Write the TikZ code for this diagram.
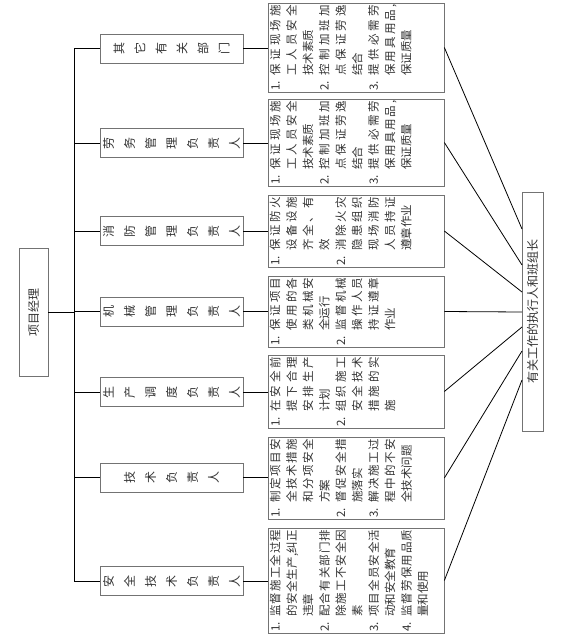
\documentclass[tikz,border=0pt]{standalone}
\usepackage{fontspec}
\setmainfont{Noto Sans CJK SC}
\makeatletter
\newcommand\spr[1]{\let\spr@f\relax\@tfor\spr@c:=#1\do{\ifx\spr@f\@empty\hfil\fi\spr@c\let\spr@f\@empty}}
\makeatother
\newlength\numw
\setlength\numw{15pt}
\newcommand\NL[2]{\hbox to\hsize{\hbox to\numw{#1\hfil}\spr{#2}}}
\newcommand\JL[1]{\hbox to\hsize{\hskip\numw\spr{#1}}}
\newcommand\EL[1]{\hbox to\hsize{\hskip\numw #1\hfil}}
\newcommand\DT[2]{\vbox{\hsize=#1\baselineskip=16.4pt\lineskiplimit=-20pt\lineskip=0pt #2}}
\definecolor{bordercol}{gray}{0.45}
\definecolor{txtcol}{gray}{0.2}
\begin{document}
\begin{tikzpicture}[x=1pt,y=-1pt,
  hd/.style={draw=bordercol, line width=0.7pt, rotate=90, minimum width=29pt, minimum height=143pt, inner sep=1pt, align=center, font=\fontsize{12pt}{21pt}\selectfont, text=txtcol},
  dbox/.style={draw=bordercol, line width=0.7pt, minimum width=176pt, inner sep=0pt},
  dtext/.style={rotate=90, anchor=north west, inner sep=0pt, font=\fontsize{11.5pt}{16.4pt}\selectfont, text=txtcol},
  tbox/.style={draw=bordercol, line width=0.7pt, rotate=90, inner sep=0pt, font=\fontsize{12pt}{14pt}\selectfont, text=txtcol},
  conn/.style={draw=black, line width=0.8pt}]
\fill[white] (0,0) rectangle (564,640);
\useasboundingbox (0,0) rectangle (564,640);
% project manager
\node[tbox, minimum width=128pt, minimum height=29pt] (pm) at (33.5,312) {项目经理};
% target
\node[tbox, minimum width=239pt, minimum height=21pt] (t) at (532.5,311.5) {有关工作的执行人和班组长};
% headers
\node[hd] (h1) at (171.5,48.5) {其\\它\\有\\关\\部\\门};
\node[hd] (h2) at (171.5,143) {劳\\务\\管\\理\\负\\责\\人};
\node[hd] (h3) at (171.5,231) {消\\防\\管\\理\\负\\责\\人};
\node[hd] (h4) at (171.5,311.5) {机\\械\\管\\理\\负\\责\\人};
\node[hd] (h5) at (171.5,392) {生\\产\\调\\度\\负\\责\\人};
\node[hd] (h6) at (171.5,477.5) {技\\术\\负\\责\\人};
\node[hd] (h7) at (171.5,581) {安\\全\\技\\术\\负\\责\\人};
% description boxes
\node[dbox, minimum height=89pt] (d1) at (356,47.5) {};
\node[dbox, minimum height=87pt] (d2) at (356,142.5) {};
\node[dbox, minimum height=72pt] (d3) at (356,231) {};
\node[dbox, minimum height=71pt] (d4) at (356,311.5) {};
\node[dbox, minimum height=73pt] (d5) at (356,391.5) {};
\node[dbox, minimum height=82pt] (d6) at (356,478) {};
\node[dbox, minimum height=105pt] (d7) at (356,580.5) {};
\node[dtext] (d1t) at ([shift={(2pt,1.5pt)}]d1.south west) {\DT{86pt}{%
\NL{1.}{保证现场施}\JL{工人员安全}\EL{技术素质}%
\NL{2.}{控制加班加}\JL{点保证劳逸}\EL{结合}%
\NL{3.}{提供必需劳}\JL{保用具用品,}\EL{保证质量}}};
\node[dtext] (d2t) at ([shift={(2pt,1.5pt)}]d2.south west) {\DT{84pt}{%
\NL{1.}{保证现场施}\JL{工人员安全}\EL{技术素质}%
\NL{2.}{控制加班加}\JL{点保证劳逸}\EL{结合}%
\NL{3.}{提供必需劳}\JL{保用具用品,}\EL{保证质量}}};
\node[dtext] (d3t) at ([shift={(2pt,1.5pt)}]d3.south west) {\DT{69pt}{%
\NL{1.}{保证防火}\JL{设备设施}\JL{齐全、有}\EL{效}%
\NL{2.}{消除火灾}\JL{隐患组织}\JL{现场消防}\JL{人员持证}\EL{遵章作业}}};
\node[dtext] (d4t) at ([shift={(2pt,1.5pt)}]d4.south west) {\DT{68pt}{%
\NL{1.}{保证项目}\JL{使用的各}\JL{类机械安}\EL{全运行}%
\NL{2.}{监督机械}\JL{操作人员}\JL{持证遵章}\EL{作业}}};
\node[dtext] (d5t) at ([shift={(2pt,1.5pt)}]d5.south west) {\DT{70pt}{%
\NL{1.}{在安全前}\JL{提下合理}\JL{安排生产}\EL{计划}%
\NL{2.}{组织施工}\JL{安全技术}\JL{措施的实}\EL{施}}};
\node[dtext] (d6t) at ([shift={(2pt,1.5pt)}]d6.south west) {\DT{79pt}{%
\NL{1.}{制定项目安}\JL{全技术措施}\JL{和分项安全}\EL{方案}%
\NL{2.}{督促安全措}\EL{施落实}%
\NL{3.}{解决施工过}\JL{程中的不安}\EL{全技术问题}}};
\node[dtext] (d7t) at ([shift={(2pt,1.5pt)}]d7.south west) {\DT{102pt}{%
\NL{1.}{监督施工全过程}\JL{的安全生产,纠正}\EL{违章}%
\NL{2.}{配合有关部门排}\JL{除施工不安全因}\EL{素}%
\NL{3.}{项目全员安全活}\EL{动和安全教育}%
\NL{4.}{监督劳保用品质}\EL{量和使用}}};
% bus
\coordinate (bus) at (74,312);
\draw[conn] (pm.south) -- (bus);
\draw[conn] (bus |- h1.north) -- (bus |- h7.north);
\foreach \i in {1,...,7}{
  \draw[conn] (bus |- h\i.north) -- (h\i.north);
  \draw[conn] (h\i.south) -- (h\i.south -| d\i.west);
}
% converging lines
\coordinate (e1) at (522,229);
\coordinate (e2) at (522,265);
\coordinate (e3) at (522,292);
\coordinate (e4) at (522,312);
\coordinate (e5) at (522,327);
\coordinate (e6) at (522,351);
\coordinate (e7) at (522,380);
\foreach \i in {1,...,7}{
  \draw[conn] (d\i.east) -- (e\i);
}
\end{tikzpicture}
\end{document}
